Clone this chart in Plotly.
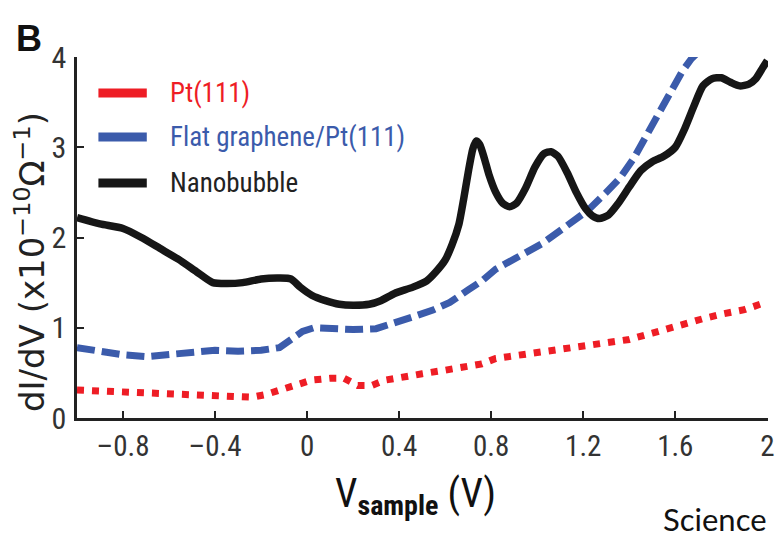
import plotly.graph_objects as go

# Sample bias (V) and differential conductance dI/dV (x1e-10 S) for each spectrum
pt_v = [-1.0, -0.9, -0.8, -0.7, -0.6, -0.5, -0.4, -0.32, -0.24, -0.18, -0.1, -0.04,
        0.02, 0.1, 0.16, 0.22, 0.28, 0.34, 0.4, 0.5, 0.6, 0.7, 0.76, 0.82, 0.9, 1.0,
        1.1, 1.2, 1.3, 1.4, 1.5, 1.58, 1.65, 1.72, 1.8, 1.9, 1.98]
pt_g = [0.31, 0.3, 0.29, 0.28, 0.27, 0.26, 0.25, 0.23, 0.23, 0.26, 0.32, 0.38,
        0.42, 0.44, 0.44, 0.36, 0.36, 0.42, 0.45, 0.49, 0.53, 0.57, 0.6, 0.66, 0.69, 0.72,
        0.75, 0.79, 0.83, 0.87, 0.94, 1.0, 1.06, 1.1, 1.15, 1.2, 1.27]

flat_v = [-1.0, -0.9, -0.8, -0.7, -0.6, -0.5, -0.4, -0.3, -0.2, -0.12, -0.07, -0.02,
          0.03, 0.1, 0.2, 0.3, 0.4, 0.46, 0.55, 0.62, 0.7, 0.76, 0.82, 0.88, 0.95,
          1.02, 1.08, 1.15, 1.22, 1.3, 1.36, 1.42, 1.48, 1.54, 1.59, 1.63, 1.67, 1.69]
flat_g = [0.78, 0.74, 0.7, 0.68, 0.7, 0.73, 0.75, 0.74, 0.75, 0.78, 0.86, 0.96,
          1.0, 0.99, 0.98, 0.99, 1.06, 1.12, 1.2, 1.28, 1.42, 1.52, 1.65, 1.73, 1.84,
          1.93, 2.04, 2.17, 2.3, 2.5, 2.66, 2.88, 3.15, 3.42, 3.65, 3.84, 3.98, 4.03]

bub_v = [-1.0, -0.9, -0.8, -0.72, -0.64, -0.56, -0.48, -0.41, -0.35, -0.28, -0.2,
         -0.12, -0.07, -0.03, 0.02, 0.08, 0.14, 0.2, 0.27, 0.32, 0.38, 0.46, 0.52,
         0.56, 0.6, 0.63, 0.66, 0.68, 0.7, 0.72, 0.735, 0.75, 0.77, 0.79, 0.82, 0.85,
         0.88, 0.91, 0.95, 0.99, 1.03, 1.06, 1.09, 1.13, 1.17, 1.21, 1.24, 1.27, 1.31,
         1.35, 1.4, 1.45, 1.5, 1.55, 1.6, 1.64, 1.68, 1.72, 1.76, 1.8, 1.84, 1.88,
         1.92, 1.95, 1.98, 2.0]
bub_g = [2.22, 2.15, 2.1, 2.0, 1.88, 1.76, 1.62, 1.5, 1.49, 1.5, 1.54,
         1.55, 1.54, 1.45, 1.36, 1.3, 1.26, 1.25, 1.26, 1.3, 1.38, 1.45, 1.52,
         1.62, 1.75, 1.92, 2.15, 2.42, 2.72, 2.98, 3.07, 3.03, 2.88, 2.7, 2.5, 2.38,
         2.34, 2.38, 2.55, 2.78, 2.93, 2.95, 2.9, 2.72, 2.5, 2.32, 2.24, 2.21, 2.25,
         2.37, 2.56, 2.74, 2.84, 2.9, 3.0, 3.2, 3.45, 3.68, 3.76, 3.77, 3.72, 3.68,
         3.7, 3.76, 3.88, 3.96]

x_ticks = [-0.8, -0.4, 0, 0.4, 0.8, 1.2, 1.6, 2]
x_tick_text = ["\u20130.8", "\u20130.4", "0", "0.4", "0.8", "1.2", "1.6", "2"]
y_ticks = [0, 1, 2, 3, 4]

series_names = ["Pt(111)", "Flat graphene/Pt(111)", "Nanobubble"]
series_colors = ["#ee1d25", "#3b5bab", "#161616"]
label_colors = ["#ee1d25", "#3b5bab", "#222222"]

NARROW = "Roboto Condensed, DejaVu Sans Condensed, sans-serif"

fig = go.Figure()
fig.add_trace(go.Scatter(x=pt_v, y=pt_g, mode="lines", name=series_names[0],
                         line=dict(color=series_colors[0], width=7, dash="7px,8px")))
fig.add_trace(go.Scatter(x=flat_v, y=flat_g, mode="lines", name=series_names[1],
                         line=dict(color=series_colors[1], width=7, dash="18px,7px")))
fig.add_trace(go.Scatter(x=bub_v, y=bub_g, mode="lines", name=series_names[2],
                         line=dict(color=series_colors[2], width=7.5, shape="spline", smoothing=0.6)))

# Hand-placed legend: solid swatch + coloured label per spectrum
shapes = []
annotations = []
legend_rows = [0.9003, 0.7784, 0.651]
for name, color, tcolor, yrow in zip(series_names, series_colors, label_colors, legend_rows):
    shapes.append(dict(type="line", xref="paper", yref="paper",
                       x0=0.031, x1=0.101, y0=yrow, y1=yrow,
                       line=dict(color=color, width=9)))
    annotations.append(dict(xref="paper", yref="paper", x=0.132, y=yrow,
                            xanchor="left", yanchor="middle", showarrow=False,
                            text=name, font=dict(family=NARROW, size=27, color=tcolor)))

annotations.append(dict(xref="paper", yref="paper", x=-0.068, y=0.432,
                        xanchor="center", yanchor="middle", showarrow=False, textangle=-90,
                        text="dI/dV (x10<sup>\u221210</sup>\u03a9<sup>\u22121</sup>)",
                        font=dict(family="DejaVu Sans", size=34, color="#222")))
annotations.append(dict(xref="paper", yref="paper", x=0.49, y=-0.215,
                        xanchor="center", yanchor="middle", showarrow=False,
                        text="V<sub><b>sample</b></sub> (V)",
                        font=dict(family=NARROW, size=40, color="#111")))
annotations.append(dict(xref="paper", yref="paper", x=-0.091, y=1.114,
                        xanchor="left", yanchor="top", showarrow=False,
                        text="<b>B</b>",
                        font=dict(family="Liberation Sans", size=36, color="#111")))
annotations.append(dict(xref="paper", yref="paper", x=1.002, y=-0.28,
                        xanchor="right", yanchor="middle", showarrow=False,
                        text="Science",
                        font=dict(family="Lato", size=31, color="#111")))

fig.update_layout(
    width=777, height=533,
    margin=dict(l=77, r=9, t=57, b=115),
    paper_bgcolor="white", plot_bgcolor="white",
    shapes=shapes, annotations=annotations,
    showlegend=False,
    xaxis=dict(range=[-1, 2.003], tickvals=x_ticks, ticktext=x_tick_text,
               showline=True, linecolor="#222", linewidth=2.5, mirror=False,
               ticks="inside", ticklen=7, tickwidth=2, tickcolor="#222",
               showgrid=False, zeroline=False, automargin=False,
               tickfont=dict(family=NARROW, size=29, color="#333")),
    yaxis=dict(range=[0, 4], tickvals=y_ticks,
               showline=True, linecolor="#222", linewidth=2.5, mirror=False,
               ticks="inside", ticklen=7, tickwidth=2, tickcolor="#222",
               showgrid=False, zeroline=False, ticklabelstandoff=2, automargin=False,
               tickfont=dict(family=NARROW, size=30, color="#333")),
)

fig.write_html("out.html")
